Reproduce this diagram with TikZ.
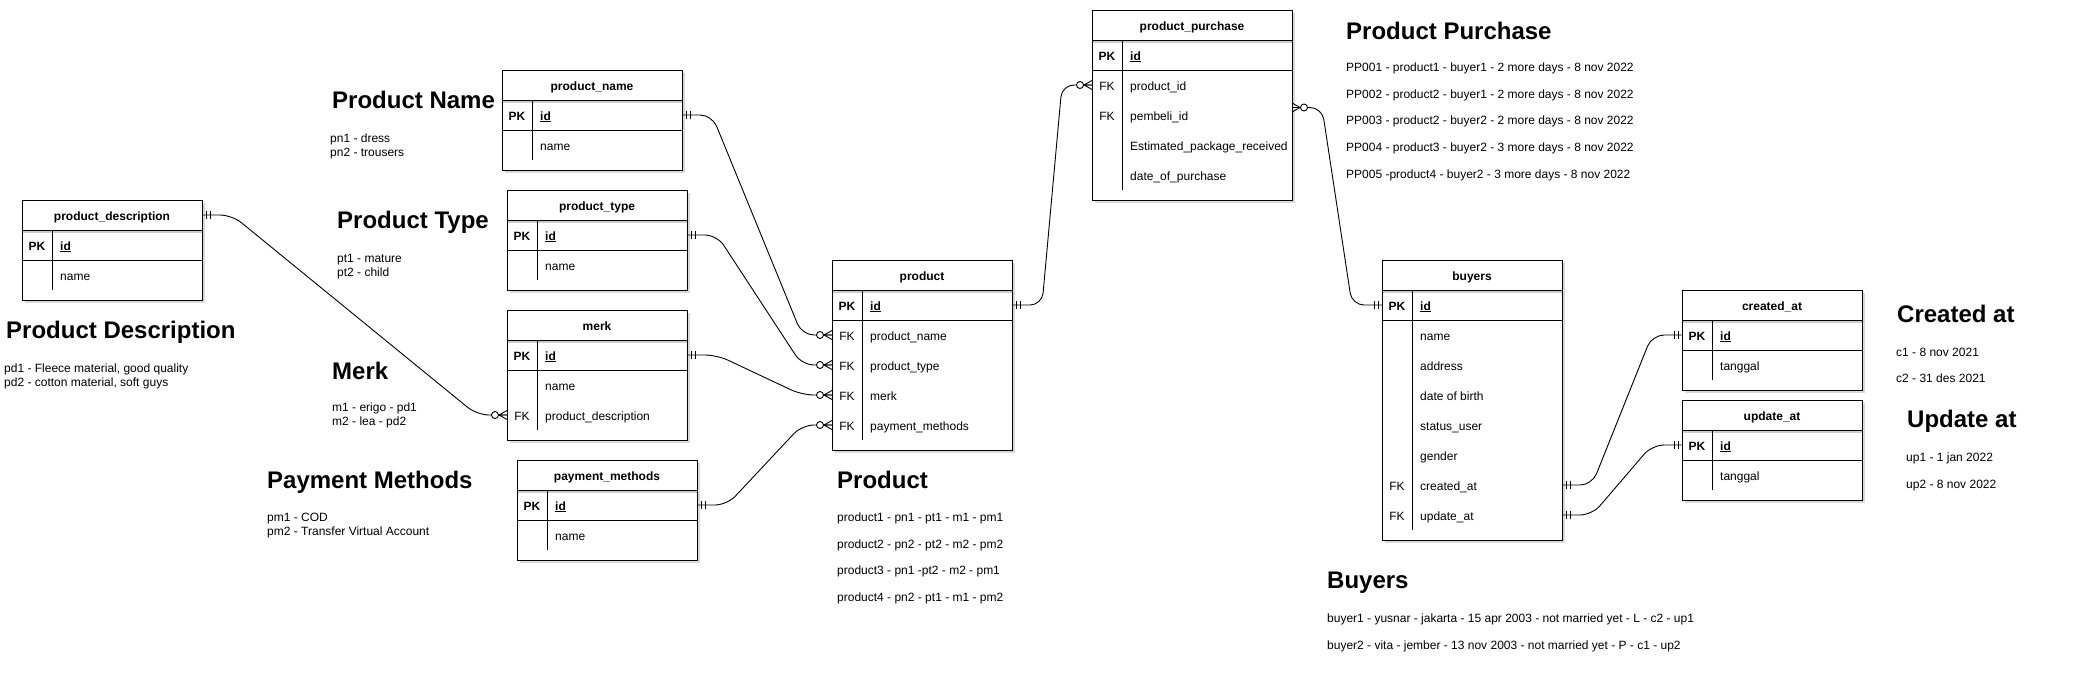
\documentclass[tikz,border=0pt]{standalone}
\usepackage{fontspec}
\setmainfont{Liberation Sans}
\usetikzlibrary{calc,positioning}
\newcommand{\cellfont}{\fontsize{12}{14}\selectfont}
\newcommand{\headfont}{\fontsize{24}{28}\selectfont\bfseries}
\tikzset{
  tabframe/.style={draw, line width=1pt, fill=white, anchor=north west, inner sep=0pt, outer sep=0pt},
  tabhead/.style={anchor=north, minimum height=30pt, inner sep=0pt, outer sep=0pt, font=\cellfont\bfseries, text height=10pt, text depth=0pt},
  tabrow/.style={anchor=north west, minimum height=30pt, inner sep=0pt, outer sep=0pt},
  keytxt/.style={inner sep=0pt, font=\cellfont, text height=10pt, text depth=0pt},
  pktxt/.style={inner sep=0pt, font=\cellfont\bfseries, text height=10pt, text depth=0pt},
  fieldtxt/.style={anchor=west, inner sep=0pt, font=\cellfont, text height=10pt, text depth=0pt},
  pkfield/.style={anchor=west, inner sep=0pt, font=\cellfont\bfseries, text height=10pt, text depth=0pt},
  tabln/.style={line width=1pt},
  tabshade/.style={fill=gray!30},
  erline/.style={line width=0.9pt, rounded corners=12pt},
  erend/.style={line width=0.9pt},
  titletxt/.style={anchor=base west, inner sep=0pt, font=\headfont},
  notetxt/.style={anchor=base west, inner sep=0pt, font=\cellfont},
}
% table: name, top left, width, rows after the key, title, key/field rows
\newcommand{\ertable}[6]{%
  \fill[tabshade] ($#2+(2.5,2.5)$) rectangle ++(#3,{70+30*#4});
  \node[tabframe, minimum width=#3pt, minimum height={(70+30*#4)*1pt}] (#1) at #2 {};
  \node[tabhead, minimum width=#3pt] (#1-h) at (#1.north) {#5};
  \node[tabrow, minimum width=#3pt] (#1-0) at (#1-h.south west) {};
  \node[pktxt] (#1-k0) at ($(#1-0.west)+(15,0)$) {PK};
  \node[pkfield] (#1-f0) at ($(#1-0.west)+(38,0)$) {\underline{id}};
  \foreach \k/\f [count=\n] in {#6} {
    \node[tabrow, minimum width=#3pt] (#1-\n) at ($(#1-h.south west)+(0,{30*\n})$) {};
    \node[keytxt] (#1-k\n) at ($(#1-\n.west)+(15,0)$) {\k};
    \node[fieldtxt] (#1-f\n) at ($(#1-\n.west)+(38,0)$) {\f};
  }
  \draw[gray!40, line width=2.5pt] ($(#1-h.south west)+(1,1.8)$) -- ($(#1-h.south east)+(-0.5,1.8)$);
  \draw[tabln] (#1-h.south west) -- (#1-h.south east);
  \draw[tabln] (#1-0.south west) -- (#1-0.south east);
  \draw[tabln] ($(#1-0.north west)+(30,0)$) -- ($(#1-#4.south west)+(30,0)$);
}
% mandatory one: point, direction (1 right, -1 left)
\newcommand{\mandone}[2]{%
  \begin{scope}[shift={(#1)}, xscale=#2]
    \draw[erend] (4,-4) -- (4,4) (8,-4) -- (8,4);
  \end{scope}}
% zero or many
\newcommand{\zeromany}[2]{%
  \begin{scope}[shift={(#1)}, xscale=#2]
    \draw[erend] (0,-4.5) -- (8,0) -- (0,4.5) (0,0) -- (8,0);
    \draw[erend, fill=white] (12,0) circle[radius=3.5pt];
  \end{scope}}

\begin{document}
\begin{tikzpicture}[x=1pt, y=-1pt]
  \useasboundingbox (0,0) rectangle (2096,686);

  % tables
  \ertable{pdesc}{(22,200)}{180}{1}{product\_description}{/name}
  \ertable{pname}{(502,70)}{180}{1}{product\_name}{/name}
  \ertable{ptype}{(507,190)}{180}{1}{product\_type}{/name}
  \ertable{merk}{(507,310)}{180}{2}{merk}{/name, FK/product\_description}
  \ertable{paym}{(517,460)}{180}{1}{payment\_methods}{/name}
  \ertable{product}{(832,260)}{180}{4}{product}{FK/product\_name, FK/product\_type, FK/merk, FK/payment\_methods}
  \ertable{ppurch}{(1092,10)}{200}{4}{product\_purchase}{FK/product\_id, FK/pembeli\_id, /Estimated\_package\_received, /date\_of\_purchase}
  \ertable{buyers}{(1382,260)}{180}{7}{buyers}{/name, /address, /date of birth, /status\_user, /gender, FK/created\_at, FK/update\_at}
  \ertable{created}{(1682,290)}{180}{1}{created\_at}{/tanggal}
  \ertable{updated}{(1682,400)}{180}{1}{update\_at}{/tanggal}
  \coordinate (pp-out) at ($(ppurch.east)+(0,2.5)$);

  % relations
  \draw[erline] (pdesc-h.east) -- ++(30,0) -- ($(merk-2.west)+(-30,0)$) -- (merk-2.west);
  \draw[erline] (pname-0.east) -- ++(30,0) -- ($(product-1.west)+(-30,0)$) -- (product-1.west);
  \draw[erline] (ptype-0.east) -- ++(30,0) -- ($(product-2.west)+(-30,0)$) -- (product-2.west);
  \draw[erline] (merk-0.east) -- ++(30,0) -- ($(product-3.west)+(-30,0)$) -- (product-3.west);
  \draw[erline] (paym-0.east) -- ++(30,0) -- ($(product-4.west)+(-30,0)$) -- (product-4.west);
  \draw[erline] (product-0.east) -- ++(30,0) -- ($(ppurch-1.west)+(-30,0)$) -- (ppurch-1.west);
  \draw[erline] (pp-out) -- ++(30,0) -- ($(buyers-0.west)+(-30,0)$) -- (buyers-0.west);
  \draw[erline] (buyers-6.east) -- ++(30,0) -- ($(created-0.west)+(-30,0)$) -- (created-0.west);
  \draw[erline] (buyers-7.east) -- ++(30,0) -- ($(updated-0.west)+(-30,0)$) -- (updated-0.west);

  \mandone{pdesc-h.east}{1}
  \zeromany{merk-2.west}{-1}
  \mandone{pname-0.east}{1}
  \zeromany{product-1.west}{-1}
  \mandone{ptype-0.east}{1}
  \zeromany{product-2.west}{-1}
  \mandone{merk-0.east}{1}
  \zeromany{product-3.west}{-1}
  \mandone{paym-0.east}{1}
  \zeromany{product-4.west}{-1}
  \mandone{product-0.east}{1}
  \zeromany{ppurch-1.west}{-1}
  \zeromany{pp-out}{1}
  \mandone{buyers-0.west}{-1}
  \mandone{buyers-6.east}{1}
  \mandone{created-0.west}{-1}
  \mandone{buyers-7.east}{1}
  \mandone{updated-0.west}{-1}

  % sample data
  \node[titletxt] (pd-title) at (6,338.5) {Product Description};
  \node[notetxt] (pd-1) at (4,372) {pd1 - Fleece material, good quality};
  \node[notetxt] (pd-2) at (4,386) {pd2 - cotton material, soft guys};

  \node[titletxt] (pn-title) at (332,108.5) {Product Name};
  \node[notetxt] (pn-1) at (330,142) {pn1 - dress};
  \node[notetxt] (pn-2) at (330,156) {pn2 - trousers};

  \node[titletxt] (pt-title) at (337,228.5) {Product Type};
  \node[notetxt] (pt-1) at (337,262) {pt1 - mature};
  \node[notetxt] (pt-2) at (337,276) {pt2 - child};

  \node[titletxt] (m-title) at (332,379.5) {Merk};
  \node[notetxt] (m-1) at (332,411.5) {m1 - erigo - pd1};
  \node[notetxt] (m-2) at (332,425.5) {m2 - lea - pd2};

  \node[titletxt] (pm-title) at (267,488.5) {Payment Methods};
  \node[notetxt] (pm-1) at (267,521.5) {pm1 - COD};
  \node[notetxt] (pm-2) at (267,535.5) {pm2 - Transfer Virtual Account};

  \node[titletxt] (pr-title) at (837,488.5) {Product};
  \node[notetxt] (pr-1) at (837,521.5) {product1 - pn1 - pt1 - m1 - pm1};
  \node[notetxt] (pr-2) at (837,548) {product2 - pn2 - pt2 - m2 - pm2};
  \node[notetxt] (pr-3) at (837,574.5) {product3 - pn1 -pt2 - m2 - pm1};
  \node[notetxt] (pr-4) at (837,601) {product4 - pn2 - pt1 - m1 - pm2};

  \node[titletxt] (pp-title) at (1346,39) {Product Purchase};
  \node[notetxt] (pp-1) at (1346,71) {PP001 - product1 - buyer1 - 2 more days - 8 nov 2022};
  \node[notetxt] (pp-2) at (1346,98) {PP002 - product2 - buyer1 - 2 more days - 8 nov 2022};
  \node[notetxt] (pp-3) at (1346,124.5) {PP003 - product2 - buyer2 - 2 more days - 8 nov 2022};
  \node[notetxt] (pp-4) at (1346,151) {PP004 - product3 - buyer2 - 3 more days - 8 nov 2022};
  \node[notetxt] (pp-5) at (1346,178) {PP005 -product4 - buyer2 - 3 more days - 8 nov 2022};

  \node[titletxt] (b-title) at (1327,588.5) {Buyers};
  \node[notetxt] (b-1) at (1327,622.5) {buyer1 - yusnar - jakarta - 15 apr 2003 - not married yet - L - c2 - up1};
  \node[notetxt] (b-2) at (1327,649) {buyer2 - vita - jember - 13 nov 2003 - not married yet - P - c1 - up2};

  \node[titletxt] (c-title) at (1897,322.5) {Created at};
  \node[notetxt] (c-1) at (1896,356) {c1 - 8 nov 2021};
  \node[notetxt] (c-2) at (1896,382.5) {c2 - 31 des 2021};

  \node[titletxt] (u-title) at (1907,427.5) {Update at};
  \node[notetxt] (u-1) at (1906,461.5) {up1 - 1 jan 2022};
  \node[notetxt] (u-2) at (1906,488) {up2 - 8 nov 2022};
\end{tikzpicture}
\end{document}
